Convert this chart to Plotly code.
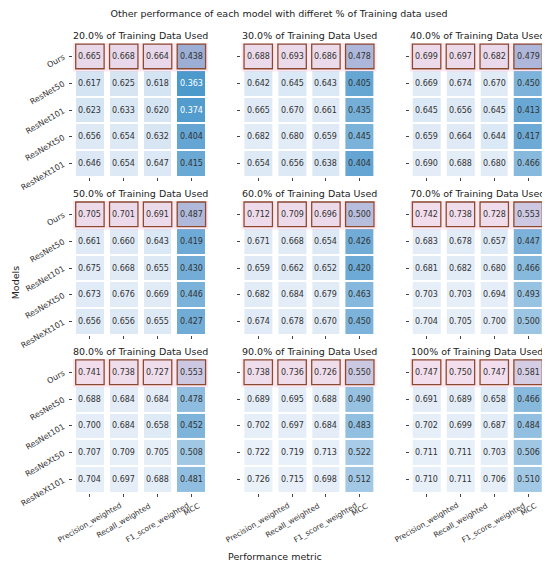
import plotly.graph_objects as go
from plotly.subplots import make_subplots

models = ["Ours", "ResNet50", "ResNet101", "ResNeXt50", "ResNeXt101"]
metrics = ["Precision_weighted", "Recall_weighted", "F1_score_weighted", "MCC"]
fractions = ["20.0%", "30.0%", "40.0%", "50.0%", "60.0%", "70.0%", "80.0%", "90.0%", "100%"]

# rows = models, cols = metrics
scores_20 = [[0.665, 0.668, 0.664, 0.438],
             [0.617, 0.625, 0.618, 0.363],
             [0.623, 0.633, 0.620, 0.374],
             [0.656, 0.654, 0.632, 0.404],
             [0.646, 0.654, 0.647, 0.415]]
scores_30 = [[0.688, 0.693, 0.686, 0.478],
             [0.642, 0.645, 0.643, 0.405],
             [0.665, 0.670, 0.661, 0.435],
             [0.682, 0.680, 0.659, 0.445],
             [0.654, 0.656, 0.638, 0.404]]
scores_40 = [[0.699, 0.697, 0.682, 0.479],
             [0.669, 0.674, 0.670, 0.450],
             [0.645, 0.656, 0.645, 0.413],
             [0.659, 0.664, 0.644, 0.417],
             [0.690, 0.688, 0.680, 0.466]]
scores_50 = [[0.705, 0.701, 0.691, 0.487],
             [0.661, 0.660, 0.643, 0.419],
             [0.675, 0.668, 0.655, 0.430],
             [0.673, 0.676, 0.669, 0.446],
             [0.656, 0.656, 0.655, 0.427]]
scores_60 = [[0.712, 0.709, 0.696, 0.500],
             [0.671, 0.668, 0.654, 0.426],
             [0.659, 0.662, 0.652, 0.420],
             [0.682, 0.684, 0.679, 0.463],
             [0.674, 0.678, 0.670, 0.450]]
scores_70 = [[0.742, 0.738, 0.728, 0.553],
             [0.683, 0.678, 0.657, 0.447],
             [0.681, 0.682, 0.680, 0.466],
             [0.703, 0.703, 0.694, 0.493],
             [0.704, 0.705, 0.700, 0.500]]
scores_80 = [[0.741, 0.738, 0.727, 0.553],
             [0.688, 0.684, 0.684, 0.478],
             [0.700, 0.684, 0.658, 0.452],
             [0.707, 0.709, 0.705, 0.508],
             [0.704, 0.697, 0.688, 0.481]]
scores_90 = [[0.738, 0.736, 0.726, 0.550],
             [0.689, 0.695, 0.688, 0.490],
             [0.702, 0.697, 0.684, 0.483],
             [0.722, 0.719, 0.713, 0.522],
             [0.726, 0.715, 0.698, 0.512]]
scores_100 = [[0.747, 0.750, 0.747, 0.581],
              [0.691, 0.689, 0.658, 0.466],
              [0.702, 0.699, 0.687, 0.484],
              [0.711, 0.711, 0.703, 0.506],
              [0.710, 0.711, 0.706, 0.510]]

all_scores = [scores_20, scores_30, scores_40, scores_50, scores_60,
              scores_70, scores_80, scores_90, scores_100]

blues = [[0.0, "#4a98cc"], [0.10, "#62a4d2"], [0.23, "#7db3da"],
         [0.36, "#9cc5e3"], [0.49, "#b8d4ec"], [0.67, "#d6e5f3"],
         [0.77, "#dfeaf6"], [1.0, "#edf3fa"]]
FONT = "DejaVu Sans"

fig = make_subplots(rows=3, cols=3,
                    horizontal_spacing=0.07, vertical_spacing=0.053,
                    subplot_titles=[f"{f} of Training Data Used" for f in fractions])

extra_labels = []
for k, z in enumerate(all_scores):
    r, c = k // 3 + 1, k % 3 + 1
    fig.add_trace(go.Heatmap(
        z=z, x=metrics, y=models,
        colorscale=blues, zmin=0.36, zmax=0.75,
        xgap=6, ygap=2, showscale=False, hoverinfo="skip"),
        row=r, col=c)

    suffix = "" if k == 0 else str(k + 1)
    for i, m in enumerate(models):
        for j, met in enumerate(metrics):
            v = z[i][j]
            extra_labels.append(dict(
                x=met, y=m, xref="x" + suffix, yref="y" + suffix,
                text=f"{v:.3f}", showarrow=False,
                font=dict(family=FONT, size=8,
                          color="white" if v < 0.38 else "#333333")))

    # x labels centred under the ticks (matplotlib style) on the bottom row
    if r == 3:
        for met in metrics:
            extra_labels.append(dict(
                x=met, y=-0.04, xref="x" + suffix, yref="y" + suffix + " domain",
                text=met, textangle=-30, xanchor="center", yanchor="top",
                showarrow=False, font=dict(family=FONT, size=7.5, color="#333")))

    # pink highlight over the "Ours" row
    top = models.index("Ours")
    fig.add_shape(type="rect", x0=-0.5, x1=len(metrics) - 0.5,
                  y0=top - 0.5, y1=top + 0.56,
                  fillcolor="rgba(255,170,200,0.28)", line_width=0,
                  layer="above", row=r, col=c)
    for j in range(len(metrics)):
        fig.add_shape(type="rect", x0=j - 0.42, x1=j + 0.42,
                      y0=top - 0.46, y1=top + 0.46,
                      line=dict(color="#8a4a30", width=1.3),
                      fillcolor="rgba(0,0,0,0)", layer="above",
                      row=r, col=c)

    fig.update_xaxes(showticklabels=False, range=[-0.5, len(metrics) - 0.5],
                     ticks="outside", ticklen=3, tickcolor="#444",
                     showgrid=False, zeroline=False, row=r, col=c)
    fig.update_yaxes(showticklabels=(c == 1), tickangle=-30,
                     range=[len(models) - 0.5, -0.5],
                     ticks="outside", ticklen=3, tickcolor="#444",
                     ticklabelstandoff=4,
                     showgrid=False, zeroline=False, row=r, col=c)

for a in fig.layout.annotations:
    a.font = dict(family=FONT, size=9.5, color="#222")

fig.add_annotation(text="Models", xref="paper", yref="paper",
                   x=-65 / 472, y=0.467, xanchor="left", textangle=-90,
                   showarrow=False,
                   font=dict(family=FONT, size=9.5, color="#222"))
fig.add_annotation(text="Performance metric", xref="paper", yref="paper",
                   x=0.428, y=-0.158, showarrow=False,
                   font=dict(family=FONT, size=9.5, color="#222"))
for lab in extra_labels:
    fig.add_annotation(**lab)

fig.update_layout(
    width=542, height=558,
    margin=dict(l=65, r=5, t=35, b=73),
    title=dict(text="Other performance of each model with differet % of Training data used",
               x=0.5, y=0.995, xanchor="center", yanchor="top",
               font=dict(family=FONT, size=9.5, color="#222")),
    font=dict(family=FONT, size=8, color="#333"),
    paper_bgcolor="white", plot_bgcolor="white",
)

fig.write_html("out.html")
